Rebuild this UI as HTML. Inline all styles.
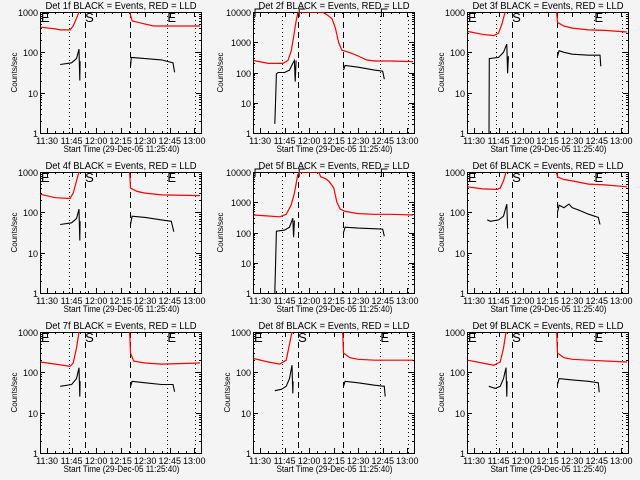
<!DOCTYPE html>
<html><head><meta charset="utf-8"><style>
html,body{margin:0;padding:0;background:#f4f4f4;}
svg{display:block;font-family:"Liberation Sans",sans-serif;}
</style></head><body>
<svg id="chart" width="640" height="480" viewBox="0 0 640 480" xmlns="http://www.w3.org/2000/svg">
<rect width="640" height="480" fill="#f4f4f4"/>
</svg>
<script>
// time values are clock minutes after 11:00 (e.g. 45 = 11:45)
const detectorNames = ["1f","2f","3f","4f","5f","6f","7f","8f","9f"];
const yTopDecade = [3,4,3,3,4,3,3,3,3];
const xTickLabels = ["11:30","11:45","12:00","12:15","12:30","12:45","13:00"];
const xTickMinutes = [30,45,60,75,90,105,120];
const dottedLineMinutes = [43.4,103.4,120.3];
const dashedLineMinutes = [53,80.5];
const markerMinutes = [26.3,53.3,103.6];
const markerLetters = ["E","S","E"];

const red1t=[26,35,38,44,46,48,49.5,50,80.2,80.5,82,90,95,123.5];
const red1v=[420,380,360,360,450,700,1000,1500,1500,1000,600,500,450,450];
const blk1t=[38,45,48,49.5,50,50.2];
const blk1v=[50,55,70,120,20,60];
const blk1bt=[81,81.5,90,100,107,108];
const blk1bv=[45,75,70,65,55,32];

const red2t=[26,35,44,47,49,50.5,52,53,54,68,71,74,76,78,80,85,90,95,100,110,123.5];
const red2v=[250,200,200,250,500,1500,5000,9000,10000,10000,8000,6000,3000,1000,550,450,350,260,240,240,230];
const blk2t=[39,39.5,40,41,45,48,50,51,51.5,52];
const blk2v=[2,12,90,100,100,120,200,250,50,250];
const blk2bt=[81,82,90,100,105,106];
const blk2bv=[120,170,150,120,110,60];

const red3t=[26,35,42,45,47,49,50,80.2,80.5,81,85,90,100,110,123.5];
const red3v=[330,280,260,300,500,1000,1500,1500,1000,550,450,400,360,350,320];
const blk3t=[39,39.1,39.3,45,48,50,50.5,51];
const blk3v=[1,1,70,75,100,160,30,80];
const blk3bt=[81,82,85,90,100,107,107.5];
const blk3bv=[80,110,100,90,85,85,45];

const red4t=[26,35,44,46,48,49.5,50,80.2,80.5,81,85,90,100,123.5];
const red4v=[280,230,220,300,600,1000,1500,1500,1000,400,330,300,270,260];
const blk4t=[38,45,48,49.5,50,50.2];
const blk4v=[50,55,70,120,20,60];
const blk4bt=[81,82,90,100,106,107.5];
const blk4bv=[50,80,75,65,60,33];

const red5t=[26,35,42,46,49,51,53,54,66,67,70,72,75,77,79,82,90,100,110,123.5];
const red5v=[380,350,330,400,800,2000,8000,10000,10000,7000,6000,5000,3000,1000,600,500,420,400,400,380];
const blk5t=[39,39.5,40,45,48,50,50.5,51];
const blk5v=[1,10,110,120,150,300,70,250];
const blk5bt=[81,82,90,105,106];
const blk5bv=[100,150,140,130,75];

const red6t=[26,35,44,46,48,49.5,50,80.2,80.5,81,85,90,95,100,110,123.5];
const red6v=[430,380,370,400,600,1000,1500,1500,1000,750,650,600,550,500,480,430];
const blk6t=[38,40,45,48,50,50.5];
const blk6v=[65,60,65,80,160,40];
const blk6bt=[81,82,85,88,90,95,100,106,107];
const blk6bv=[100,150,130,160,130,110,90,75,50];

const red7t=[26,35,44,46,48,49.5,50,80.2,80.5,81,83,90,100,123.5];
const red7v=[180,160,140,170,400,1000,1500,1500,1000,300,190,170,160,170];
const blk7t=[38,45,48,49.5,50,50.2];
const blk7v=[45,50,70,130,25,60];
const blk7bt=[81,82,90,100,107,108];
const blk7bv=[45,60,55,50,50,33];

const red8t=[26,35,42,46,48,49.5,50,80.2,80.5,81,85,90,100,123.5];
const red8v=[220,180,160,200,500,1000,1500,1500,1000,300,230,210,200,200];
const blk8t=[39,43,46,48,49.5,50,50.2];
const blk8v=[35,38,45,70,150,30,60];
const blk8bt=[81,82,90,100,106,106.5];
const blk8bv=[45,60,55,48,45,25];

const red9t=[26,35,42,46,48,49.5,50,80.2,80.5,81,85,90,100,123.5];
const red9v=[200,170,150,180,400,1000,1500,1500,1000,300,230,210,200,180];
const blk9t=[39,43,46,48,49.5,50,50.2];
const blk9v=[45,40,45,70,130,25,60];
const blk9bt=[81,82,90,100,106,106.5];
const blk9bv=[50,70,65,60,55,32];

const redT=[red1t,red2t,red3t,red4t,red5t,red6t,red7t,red8t,red9t];
const redV=[red1v,red2v,red3v,red4v,red5v,red6v,red7v,red8v,red9v];
const blkT=[blk1t,blk2t,blk3t,blk4t,blk5t,blk6t,blk7t,blk8t,blk9t];
const blkV=[blk1v,blk2v,blk3v,blk4v,blk5v,blk6v,blk7v,blk8v,blk9v];
const blkBT=[blk1bt,blk2bt,blk3bt,blk4bt,blk5bt,blk6bt,blk7bt,blk8bt,blk9bt];
const blkBV=[blk1bv,blk2bv,blk3bv,blk4bv,blk5bv,blk6bv,blk7bv,blk8bv,blk9bv];

const NS="http://www.w3.org/2000/svg";
const svg=document.getElementById("chart");
function mk(tag,attrs,parent){const e=document.createElementNS(NS,tag);for(const k in attrs)e.setAttribute(k,attrs[k]);(parent||svg).appendChild(e);return e;}
const T0=25+40/60, PXM=1.635;

for(let i=0;i<9;i++){
  const c=i%3,r=Math.floor(i/3);
  const ox=Math.round(c*213.33), oy=r*160;
  const x0=ox+40,x1=ox+201,y0=oy+12,y1=oy+133;
  const top=yTopDecade[i];
  const xs=m=>x0+(m-T0)*PXM;
  const ys=v=>y1-(Math.log10(v)/top)*(y1-y0);
  const g=mk("g",{});
  
  
  const cp=mk("clipPath",{id:"cp"+i},g);
  mk("rect",{x:x0,y:y0,width:x1-x0,height:y1-y0},cp);
  // title
  const tt=mk("text",{x:(x0+x1)/2+0.5,y:oy+9,"font-size":10,"text-anchor":"middle",textLength:151,lengthAdjust:"spacingAndGlyphs",fill:"#000"},g);
  tt.textContent="Det "+detectorNames[i]+" BLACK = Events, RED = LLD";
  
  
  // axes box
  const box=mk("rect",{x:x0+0.5,y:y0+0.5,width:x1-x0,height:y1-y0,fill:"none",stroke:"#000","stroke-width":1},g);
  
  
  // y ticks
  for(let d=0;d<=top;d++){
    const y=Math.round(ys(Math.pow(10,d)))+0.5;
    mk("line",{x1:x0,x2:x0+5,y1:y,y2:y,stroke:"#000"},g);
    mk("line",{x1:x1-5,x2:x1,y1:y,y2:y,stroke:"#000"},g);
    const lb=mk("text",{x:x0-2,y:y+3.5,"font-size":9,"text-anchor":"end",fill:"#000"},g);
    lb.textContent=String(Math.pow(10,d));
    
    
    if(d<top)for(let k=2;k<10;k++){
      const yy=Math.round(ys(k*Math.pow(10,d)))+0.5;
      mk("line",{x1:x0,x2:x0+2,y1:yy,y2:yy,stroke:"#000"},g);
      mk("line",{x1:x1-2,x2:x1,y1:yy,y2:yy,stroke:"#000"},g);
    }
  }
  // x ticks
  for(let m=30;m<=125;m+=5){
    const x=Math.round(xs(m))+0.5; if(x>x1)break;
    const L=(m%15===0)?5:2;
    mk("line",{x1:x,x2:x,y1:y1,y2:y1-L,stroke:"#000"},g);
    mk("line",{x1:x,x2:x,y1:y0,y2:y0+L,stroke:"#000"},g);
  }
  xTickLabels.forEach((s,j)=>{
    const lb=mk("text",{x:xs(xTickMinutes[j]),y:y1+11,"font-size":9,"text-anchor":"middle",fill:"#000"},g);
    lb.textContent=s;
    
    
  });
  const xt=mk("text",{x:(x0+x1)/2+1,y:y1+19,"font-size":9,"text-anchor":"middle",textLength:116,lengthAdjust:"spacingAndGlyphs",fill:"#000"},g);
  xt.textContent="Start Time (29-Dec-05 11:25:40)";
  
  
  const yt=mk("text",{x:0,y:0,"font-size":8,"text-anchor":"middle",transform:`translate(${x0-(top===4?30:23)},${(y0+y1)/2}) rotate(-90)`,fill:"#000"},g);
  yt.textContent="Counts/sec";
  
  
  // reference lines
  dottedLineMinutes.forEach(m=>{const x=Math.round(xs(m))+0.5;
    const l=mk("line",{x1:x,x2:x,y1:y0,y2:y1,stroke:"#000","stroke-dasharray":"1,3"},g);
    
    });
  dashedLineMinutes.forEach(m=>{const x=Math.round(xs(m))+0.5;
    const l=mk("line",{x1:x,x2:x,y1:y0,y2:y1,stroke:"#000","stroke-dasharray":"6,4"},g);
    
    });
  markerLetters.forEach((s,j)=>{
    if(top===4){
      const x=xs(markerMinutes[j])+1;
      mk("path",{d:`M${x+6} ${y0-3}H${x}V${y0+5}`,fill:"none",stroke:"#000"},g);
      return;
    }
    const lb=mk("text",{x:xs(markerMinutes[j]),y:y0+10,"font-size":13,fill:"#000"},g);
    lb.textContent=s;
    
    
  });
  // series
  const pg=mk("g",{"clip-path":`url(#cp${i})`},g);
  const pts=(t,v)=>t.map((m,k)=>xs(m).toFixed(1)+","+ys(v[k]).toFixed(1)).join(" ");
  const rl=mk("polyline",{points:pts(redT[i],redV[i]),fill:"none",stroke:"#ff0000","stroke-width":1.2},pg);
  
  
  const b1=mk("polyline",{points:pts(blkT[i],blkV[i]),fill:"none",stroke:"#000","stroke-width":1.1},pg);
  
  
  const b2=mk("polyline",{points:pts(blkBT[i],blkBV[i]),fill:"none",stroke:"#000","stroke-width":1.1},pg);
  
  
}
</script>
</body></html>
